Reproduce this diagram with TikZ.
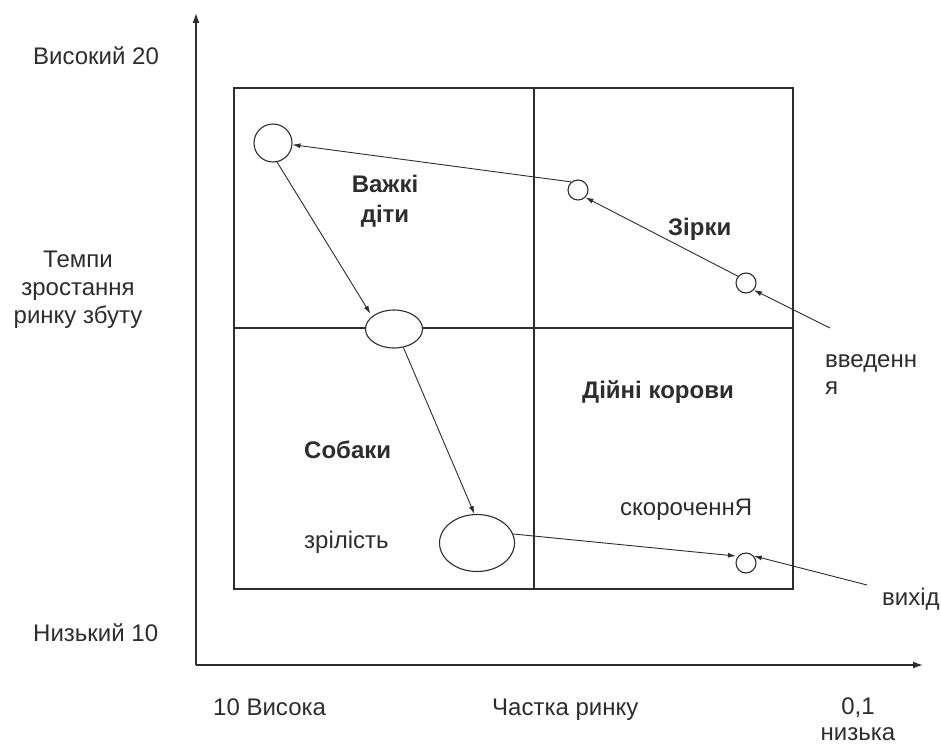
\documentclass[tikz,border=0pt]{standalone}
\usepackage{fontspec}
\setmainfont{Liberation Sans}
\usetikzlibrary{arrows.meta}
\definecolor{ink}{RGB}{45,45,45}
\tikzset{
  lbl/.style={font=\fontsize{24}{28}\selectfont, text=ink, inner sep=0pt, anchor=base west},
  bold/.style={lbl, font=\fontsize{24}{28}\selectfont\bfseries},
  dot/.style={draw=ink, circle, line width=1.1pt, minimum size=20pt, inner sep=0pt},
  egg/.style={draw=ink, ellipse, line width=1.1pt, inner sep=0pt},
  axis/.style={draw=ink, line width=1.4pt, -{Latex[length=10pt,width=7pt]}},
  frame/.style={draw=ink, line width=1.4pt},
  flow/.style={draw=ink, line width=0.9pt, -{Latex[length=8pt,width=5pt]}}
}
\usetikzlibrary{shapes.geometric}
\begin{document}
\begin{tikzpicture}[x=1pt,y=-1pt]
\useasboundingbox (0,0) rectangle (941,746);
\fill[white] (0,0) rectangle (941,746);
% axes
\coordinate (o) at (196,665);
\coordinate (ytop) at (196,13);
\coordinate (xend) at (923,665);
\draw[axis] (o) -- (ytop);
\draw[axis] (o) -- (xend);
% matrix frame
\draw[frame] (234,88) rectangle (793,589);
\draw[frame] (534,88) -- (534,589);
\draw[frame] (234,328) -- (793,328);
% circles
\node[dot, minimum size=38pt] (A) at (273,143) {};
\node[dot] (B) at (578,190) {};
\node[dot] (C) at (746,283) {};
\node[dot] (F) at (746,563) {};
\node[egg, fill=white, minimum width=57pt, minimum height=38pt] (D) at (394,329) {};
\node[egg, minimum width=75pt, minimum height=57pt] (E) at (477,543) {};
\coordinate (vin) at (830,328);
\coordinate (vout) at (867,585);
% flows
\draw[flow] (B.130) -- (A.-5);
\draw[flow] (C.140) -- (B.-45);
\draw[flow] (vin) -- (C.-42);
\draw[flow, shorten >=3pt] (A.-78) -- (D.150);
\draw[flow] (D.-63) -- (E.95);
\draw[flow, shorten >=2pt] (E.14) -- (F.140);
\draw[flow] (vout) -- (F.42);
% labels
\node[lbl] (hi) at (33,65) {Високий 20};
\node[lbl, anchor=base] (t1) at (78,267) {Темпи};
\node[lbl, anchor=base] (t2) at (78,295) {зростання};
\node[lbl, anchor=base] (t3) at (78,323) {ринку збуту};
\node[lbl] (lo) at (33,641) {Низький 10};
\node[lbl] (xhi) at (213,715) {10 Висока};
\node[lbl] (xmid) at (492,715) {Частка ринку};
\node[lbl, anchor=base] (x1) at (858,714) {0,1};
\node[lbl, anchor=base] (x2) at (858,740) {низька};
\node[bold, anchor=base] (q1) at (385,193) {Важкі};
\node[bold, anchor=base] (q1b) at (385,222) {діти};
\node[bold] (q2) at (668,235) {Зірки};
\node[bold] (q3) at (582,398) {Дійні корови};
\node[bold] (q4) at (304,458) {Собаки};
\node[lbl] (s1) at (825,367) {введенн};
\node[lbl] (s1b) at (825,394) {я};
\node[lbl] (s2) at (620,515) {скороченнЯ};
\node[lbl] (s3) at (304,548) {зрілість};
\node[lbl] (s4) at (882,605) {вихід};
\end{tikzpicture}
\end{document}
